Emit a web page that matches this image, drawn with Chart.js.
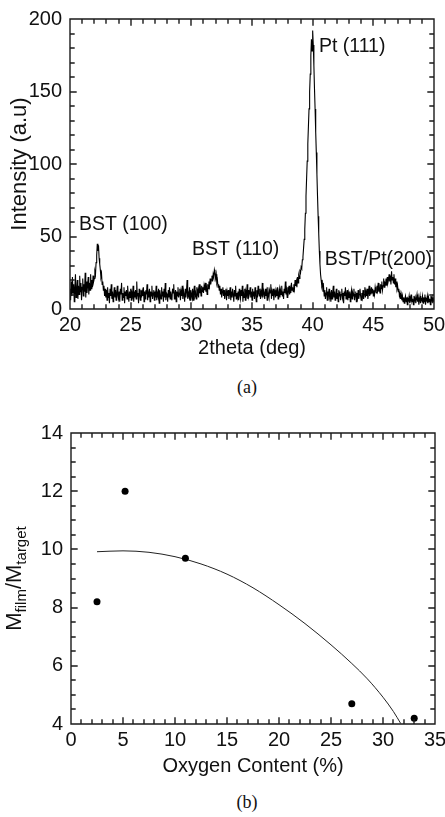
<!DOCTYPE html>
<html><head><meta charset="utf-8">
<script src="https://cdn.jsdelivr.net/npm/chart.js@4"></script>
<style>
html,body{margin:0;padding:0;background:#fff;}
#wrap{position:relative;width:445px;height:817px;overflow:hidden;background:#fff;}
canvas{position:absolute;left:0;}
.cap{position:absolute;font-family:"Liberation Serif","Times New Roman",serif;font-size:18px;line-height:20px;color:#111;width:60px;text-align:center;}
</style></head><body>
<div id="wrap">
<canvas id="ca" width="445" height="365" style="top:0"></canvas>
<div class="cap" style="left:217px;top:377px">(a)</div>
<canvas id="cb" width="445" height="390" style="top:400px"></canvas>
<div class="cap" style="left:217px;top:792px">(b)</div>
</div>
<script>
// ---------- (a) XRD pattern ----------
const twoThetaStart = 20;
const twoThetaStep = 0.05;
const intensity = [
 14,6,19,9,22,11,17,5,15,24,8,13,20,7,16,10,23,12,18,6,
 15,21,9,17,12,25,8,19,11,16,22,10,18,13,24,14,20,15,23,19,
 21,26,24,32,37,45,40,44,35,31,27,22,24,17,19,13,16,9,14,8,
 13,6,15,8,11,4,14,9,17,7,12,5,10,15,8,13,6,11,16,9,
 7,12,5,14,10,18,6,11,8,15,4,12,9,13,7,16,10,5,12,8,
 14,6,11,9,16,5,12,8,13,7,19,9,11,4,14,10,6,13,8,12,
 9,15,5,12,7,13,10,17,6,11,8,14,5,12,9,16,7,11,13,6,
 12,8,16,6,11,9,14,4,13,10,7,15,9,12,5,14,8,18,6,11,
 10,5,13,8,15,7,12,9,6,14,11,17,7,10,13,5,12,9,15,8,
 11,14,6,12,9,16,7,13,10,5,14,8,12,20,7,11,9,15,6,13,
 10,8,14,6,12,16,9,11,7,15,10,13,8,17,11,14,9,16,12,15,
 11,16,13,18,12,15,10,17,14,19,16,21,17,20,23,19,24,22,27,25,
 21,24,18,20,15,17,13,16,10,14,8,12,15,9,13,7,11,14,6,12,
 9,13,7,11,15,6,12,8,14,10,5,13,9,16,7,11,8,12,6,14,
 10,7,13,9,16,5,11,8,14,6,12,10,17,7,13,9,11,15,8,12,
 6,14,9,12,7,15,10,5,13,8,16,11,9,14,7,12,10,18,8,13,
 11,7,14,9,12,6,15,10,8,13,11,17,7,12,9,14,6,11,13,8,
 12,9,15,7,11,14,8,13,10,16,9,12,7,14,11,19,10,13,8,15,
 12,16,10,14,11,18,13,15,12,17,14,20,16,19,15,22,18,23,21,26,
 25,29,28,34,36,42,48,55,66,78,90,102,114,126,138,150,162,175,186,178,
 192,182,168,152,138,122,108,93,78,64,52,40,31,24,20,16,18,12,15,9,
 13,7,11,15,6,12,9,14,8,10,5,13,7,11,16,8,12,6,10,14,
 7,11,5,13,9,12,6,10,14,8,11,4,12,9,15,7,10,13,6,11,
 8,12,5,10,13,7,11,9,14,6,10,12,5,11,8,13,7,10,14,9,
 6,11,8,13,7,10,15,8,12,9,14,7,11,16,9,13,10,15,11,14,
 9,13,10,15,12,11,16,13,18,12,15,11,17,14,19,13,16,21,15,18,
 17,21,16,22,18,20,24,19,23,17,26,20,22,18,24,17,21,15,19,14,
 16,12,14,9,11,7,10,6,9,5,8,4,7,9,5,8,3,7,6,9,
 4,8,6,10,5,7,3,9,6,8,4,7,10,5,8,3,6,9,4,7,
 6,9,4,8,5,10,3,7,6,9,4,8,5,7,3,9,6,8,4,7,
 5
];
const twoTheta = intensity.map((_, i) => +(twoThetaStart + i * twoThetaStep).toFixed(2));
const peakLabels = ['BST (100)', 'BST (110)', 'Pt (111)', 'BST/Pt(200)'];
const peakLabelX = [20.74, 30.05, 40.52, 41.0];
const peakLabelY = [54.5, 37.2, 177.2, 30.3];
const xTicksA = [20, 25, 30, 35, 40, 45, 50];
const yTicksA = [0, 50, 100, 150, 200];
const xMinorA = 1, yMinorA = 10;

// ---------- (b) mass ratio vs oxygen ----------
const oxygen = [2.5, 5.2, 11.0, 27.0, 33.0];
const massRatio = [8.2, 12.0, 9.7, 4.7, 4.2];
const fitX = [2.5, 5, 7.5, 10, 12.5, 15, 17.5, 20, 22.5, 25, 27, 28.5, 30, 31, 31.7];
const fitY = [9.92, 9.95, 9.90, 9.75, 9.50, 9.15, 8.68, 8.10, 7.45, 6.72, 6.08, 5.55, 4.92, 4.43, 4.02];
const xTicksB = [0, 5, 10, 15, 20, 25, 30, 35];
const yTicksB = [4, 6, 8, 10, 12, 14];
const xMinorB = 1, yMinorB = 0.5;

const FONT = '"Liberation Sans", Arial, Helvetica, sans-serif';
const TXT = '#111';
const tickFont = {family: FONT, size: 20};
const titleFont = {family: FONT, size: 20};
const yTitleFont = {family: FONT, size: 22};

// plot frame with inward major/minor ticks on all four sides
function makeFrame(id, xMajor, yMajor, xMinor, yMinor) {
  return {
    id: id,
    afterDraw(chart) {
      const ctx = chart.ctx;
      const a = chart.chartArea;
      const x = chart.scales.x, y = chart.scales.y;
      const L = Math.round(a.left), R = Math.round(a.right);
      const T = Math.round(a.top), B = Math.round(a.bottom);
      ctx.save();
      ctx.strokeStyle = '#1a1a1a';
      ctx.lineWidth = 1.4;
      ctx.lineCap = 'square';
      ctx.beginPath();
      ctx.moveTo(L, T); ctx.lineTo(R, T); ctx.lineTo(R, B); ctx.lineTo(L, B); ctx.closePath();
      const nx = Math.round((x.max - x.min) / xMinor);
      for (let i = 0; i <= nx; i++) {
        const vv = x.min + i * xMinor;
        const len = xMajor.some(m => Math.abs(m - vv) < 1e-3) ? 6 : 4;
        const p = Math.round(x.getPixelForValue(vv));
        ctx.moveTo(p, B); ctx.lineTo(p, B - len);
        ctx.moveTo(p, T); ctx.lineTo(p, T + len);
      }
      const ny = Math.round((y.max - y.min) / yMinor);
      for (let i = 0; i <= ny; i++) {
        const vv = y.min + i * yMinor;
        const len = yMajor.some(m => Math.abs(m - vv) < 1e-3) ? 6 : 4;
        const p = Math.round(y.getPixelForValue(vv));
        ctx.moveTo(L, p); ctx.lineTo(L + len, p);
        ctx.moveTo(R, p); ctx.lineTo(R - len, p);
      }
      ctx.stroke();
      ctx.restore();
    }
  };
}

const peakLabelPlugin = {
  id: 'peakLabels',
  afterDatasetsDraw(chart) {
    const {ctx, scales: {x, y}} = chart;
    ctx.save();
    ctx.font = '19.5px ' + FONT;
    ctx.fillStyle = TXT;
    ctx.textAlign = 'left';
    ctx.textBaseline = 'alphabetic';
    peakLabels.forEach((t, i) => {
      ctx.fillText(t, x.getPixelForValue(peakLabelX[i]), y.getPixelForValue(peakLabelY[i]));
    });
    ctx.restore();
  }
};

const yTitleB = {
  id: 'yTitleB',
  afterDraw(chart) {
    const {ctx, chartArea: a} = chart;
    const parts = [
      ['M', 22, 0], ['film', 15, 4.5], ['/M', 22, 0], ['target', 15, 4.5]
    ];
    ctx.save();
    ctx.fillStyle = TXT;
    ctx.textBaseline = 'alphabetic';
    ctx.textAlign = 'left';
    let total = 0;
    const widths = parts.map(([t, s]) => { ctx.font = s + 'px ' + FONT; const w = ctx.measureText(t).width; total += w; return w; });
    ctx.translate(21, (a.top + a.bottom) / 2);
    ctx.rotate(-Math.PI / 2);
    let u = -total / 2;
    parts.forEach(([t, s, dy], i) => {
      ctx.font = s + 'px ' + FONT;
      ctx.fillText(t, u, dy);
      u += widths[i];
    });
    ctx.restore();
  }
};

function tickSetter(arr) {
  return s => { s.ticks = arr.map(v => ({value: v})); };
}

new Chart(document.getElementById('ca'), {
  type: 'line',
  data: {
    datasets: [{
      data: twoTheta.map((t, i) => ({x: t, y: intensity[i]})),
      borderColor: '#000',
      borderWidth: 1.1,
      pointRadius: 0,
      tension: 0
    }]
  },
  options: {
    responsive: false,
    animation: false,
    devicePixelRatio: 1,
    events: [],
    layout: {padding: {top: 19, right: 11, left: 0, bottom: 0}},
    plugins: {legend: {display: false}, tooltip: {enabled: false}},
    scales: {
      x: {
        type: 'linear', min: 20, max: 50,
        afterBuildTicks: tickSetter(xTicksA),
        ticks: {font: tickFont, color: TXT, padding: 4, maxRotation: 0},
        grid: {display: false, drawTicks: false},
        border: {display: false},
        title: {display: true, text: '2theta (deg)', font: titleFont, color: TXT, padding: {top: 0, bottom: 5}},
        afterFit(s) { s.height = 56; s.paddingLeft = 0; s.paddingRight = 0; }
      },
      y: {
        type: 'linear', min: 0, max: 200,
        afterBuildTicks: tickSetter(yTicksA),
        ticks: {font: tickFont, color: TXT, padding: 8},
        grid: {display: false, drawTicks: false},
        border: {display: false},
        title: {display: true, text: 'Intensity (a.u)', font: yTitleFont, color: TXT, padding: {top: 7, bottom: 0}},
        afterFit(s) { s.width = 70; s.paddingTop = 0; s.paddingBottom = 0; }
      }
    }
  },
  plugins: [peakLabelPlugin, makeFrame('frameA', xTicksA, yTicksA, xMinorA, yMinorA)]
});

new Chart(document.getElementById('cb'), {
  type: 'scatter',
  data: {
    datasets: [{
      type: 'scatter',
      data: oxygen.map((o, i) => ({x: o, y: massRatio[i]})),
      pointRadius: 3.5,
      pointBackgroundColor: '#000',
      pointBorderColor: '#000',
      pointBorderWidth: 0,
      clip: false
    }, {
      type: 'line',
      data: fitX.map((o, i) => ({x: o, y: fitY[i]})),
      borderColor: '#222',
      borderWidth: 1,
      pointRadius: 0,
      cubicInterpolationMode: 'monotone',
      fill: false
    }]
  },
  options: {
    responsive: false,
    animation: false,
    devicePixelRatio: 1,
    events: [],
    layout: {padding: {top: 33, right: 10, left: 0, bottom: 0}},
    plugins: {legend: {display: false}, tooltip: {enabled: false}},
    scales: {
      x: {
        type: 'linear', min: 0, max: 35,
        afterBuildTicks: tickSetter(xTicksB),
        ticks: {font: tickFont, color: TXT, padding: 4, maxRotation: 0},
        grid: {display: false, drawTicks: false},
        border: {display: false},
        title: {display: true, text: 'Oxygen Content (%)', font: titleFont, color: TXT, padding: {top: 0, bottom: 12}},
        afterFit(s) { s.height = 66; s.paddingLeft = 0; s.paddingRight = 0; }
      },
      y: {
        type: 'linear', min: 4, max: 14,
        afterBuildTicks: tickSetter(yTicksB),
        ticks: {font: tickFont, color: TXT, padding: 8},
        grid: {display: false, drawTicks: false},
        border: {display: false},
        title: {display: false},
        afterFit(s) { s.width = 71; s.paddingTop = 0; s.paddingBottom = 0; }
      }
    }
  },
  plugins: [yTitleB, makeFrame('frameB', xTicksB, yTicksB, xMinorB, yMinorB)]
});
</script>
</body></html>
